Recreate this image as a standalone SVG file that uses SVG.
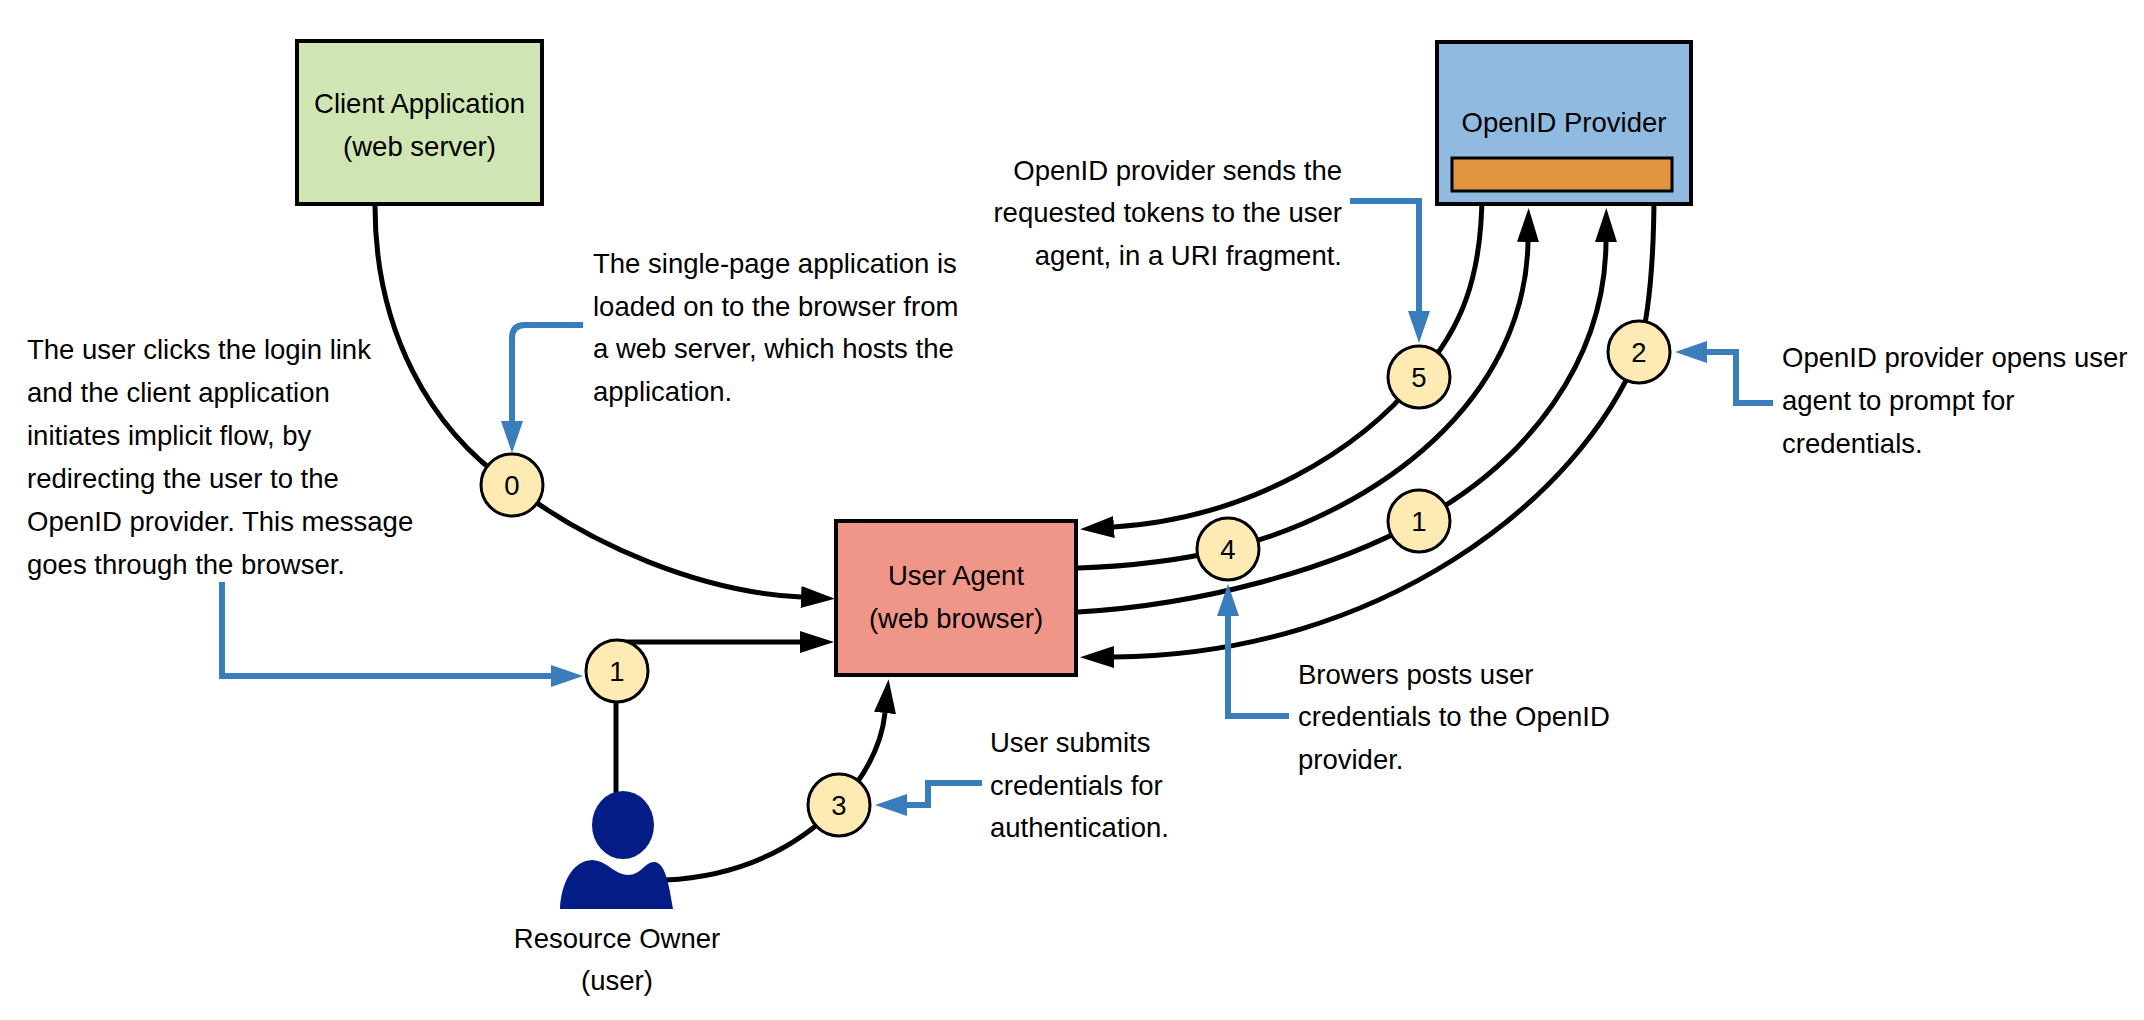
<svg xmlns="http://www.w3.org/2000/svg" width="2144" height="1020" viewBox="0 0 2144 1020">
<style>
text{font-family:"Liberation Sans",Arial,sans-serif;font-size:27.5px;fill:#000}
.c{text-anchor:middle}
.e{text-anchor:end}
.box{stroke:#000;stroke-width:4}
.dot{fill:#fdebb3;stroke:#000;stroke-width:3}
.ln{fill:none;stroke:#000;stroke-width:5}
.bl{fill:none;stroke:#3a7dbc;stroke-width:6}
</style>
<defs>
<marker id="ab" markerUnits="userSpaceOnUse" markerWidth="34" markerHeight="22" viewBox="0 0 34 22" refX="0" refY="11" orient="auto"><path d="M0,0 L34,11 L0,22 z" fill="#000"/></marker>
<marker id="ah" markerUnits="userSpaceOnUse" markerWidth="32" markerHeight="22" viewBox="0 0 32 22" refX="0" refY="11" orient="auto"><path d="M0,0 L32,11 L0,22 z" fill="#3a7dbc"/></marker>
</defs>
<rect width="2144" height="1020" fill="#fff"/>
<g id="connectors">
<path class="ln" d="M375,206 C375,330 430,430 512,485 C590,545 700,592 801,597" marker-end="url(#ab)"/>
<path class="ln" d="M617,642 L800,642" marker-end="url(#ab)"/>
<path class="ln" d="M616,671 L616,795"/>
<path class="ln" d="M665,880 Q770,875 839,805 Q880,760 885,713" marker-end="url(#ab)"/>
<path class="ln" d="M1482,192 C1482,280 1460,330 1419,377 C1360,450 1250,518 1114,527" marker-end="url(#ab)"/>
<path class="ln" d="M1078,568 C1140,566 1190,558 1228,549 C1380,510 1525,400 1528,242" marker-end="url(#ab)"/>
<path class="ln" d="M1078,612 C1200,605 1330,570 1419,521 C1530,460 1605,360 1606,242" marker-end="url(#ab)"/>
<path class="ln" d="M1654,192 C1654,260 1650,310 1639,352 C1580,500 1380,655 1114,657" marker-end="url(#ab)"/>
<path class="bl" d="M583,325 L525,325 Q512,325 512,338 L512,421" marker-end="url(#ah)"/>
<path class="bl" d="M222,582 L222,676 L551,676" marker-end="url(#ah)"/>
<path class="bl" d="M982,783 L928,783 L928,805 L907,805" marker-end="url(#ah)"/>
<path class="bl" d="M1289,716 L1228,716 L1228,616" marker-end="url(#ah)"/>
<path class="bl" d="M1350,201 L1419,201 L1419,311" marker-end="url(#ah)"/>
<path class="bl" d="M1773,403 L1736,403 L1736,352 L1707,352" marker-end="url(#ah)"/>
</g>
<g id="client-app">
<rect class="box" x="297" y="41" width="245" height="163" fill="#cfe6b4"/>
<text class="c" x="419.5" y="113">Client Application</text>
<text class="c" x="419.5" y="156">(web server)</text>
</g>
<g id="openid-provider">
<rect class="box" x="1437" y="42" width="254" height="162" fill="#90bae0"/>
<text class="c" x="1564" y="132">OpenID Provider</text>
<rect x="1452" y="158" width="220" height="33" fill="#e19440" stroke="#000" stroke-width="3"/>
</g>
<g id="user-agent">
<rect class="box" x="836" y="521" width="240" height="154" fill="#f09688"/>
<text class="c" x="956" y="585">User Agent</text>
<text class="c" x="956" y="628">(web browser)</text>
</g>
<g id="resource-owner">
<ellipse cx="623" cy="825" rx="31" ry="34" fill="#031c86"/>
<path d="M560,909 C561,884 572,861 592,860 C606,860 615,875 628,875 C641,875 645,862 654,862 C665,862 669,884 673,909 Z" fill="#031c86"/>
<text class="c" x="617" y="948">Resource Owner</text>
<text class="c" x="617" y="990">(user)</text>
</g>
<g id="step-0"><circle class="dot" cx="512" cy="485" r="31"/><text class="c" x="512" y="495">0</text></g>
<g id="step-1a"><circle class="dot" cx="617" cy="671" r="31"/><text class="c" x="617" y="681">1</text></g>
<g id="step-3"><circle class="dot" cx="839" cy="805" r="31"/><text class="c" x="839" y="815">3</text></g>
<g id="step-4"><circle class="dot" cx="1228" cy="549" r="31"/><text class="c" x="1228" y="559">4</text></g>
<g id="step-1b"><circle class="dot" cx="1419" cy="521" r="31"/><text class="c" x="1419" y="531">1</text></g>
<g id="step-5"><circle class="dot" cx="1419" cy="377" r="31"/><text class="c" x="1419" y="387">5</text></g>
<g id="step-2"><circle class="dot" cx="1639" cy="352" r="31"/><text class="c" x="1639" y="362">2</text></g>
<g id="note-1">
<text x="27" y="359">The user clicks the login link</text>
<text x="27" y="402">and the client application</text>
<text x="27" y="445">initiates implicit flow, by</text>
<text x="27" y="488">redirecting the user to the</text>
<text x="27" y="531">OpenID provider. This message</text>
<text x="27" y="574">goes through the browser.</text>
</g>
<g id="note-0">
<text x="593" y="273">The single-page application is</text>
<text x="593" y="316">loaded on to the browser from</text>
<text x="593" y="358">a web server, which hosts the</text>
<text x="593" y="401">application.</text>
</g>
<g id="note-5">
<text class="e" x="1342" y="180">OpenID provider sends the</text>
<text class="e" x="1342" y="222">requested tokens to the user</text>
<text class="e" x="1342" y="265">agent, in a URI fragment.</text>
</g>
<g id="note-2">
<text x="1782" y="367">OpenID provider opens user</text>
<text x="1782" y="410">agent to prompt for</text>
<text x="1782" y="453">credentials.</text>
</g>
<g id="note-4">
<text x="1298" y="684">Browers posts user</text>
<text x="1298" y="726">credentials to the OpenID</text>
<text x="1298" y="769">provider.</text>
</g>
<g id="note-3">
<text x="990" y="752">User submits</text>
<text x="990" y="795">credentials for</text>
<text x="990" y="837">authentication.</text>
</g>
</svg>
